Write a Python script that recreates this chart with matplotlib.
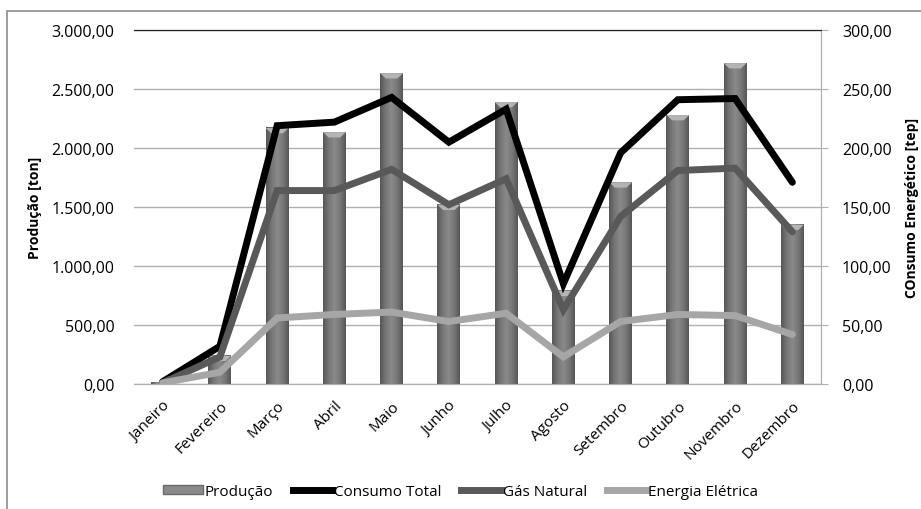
import matplotlib.pyplot as plt
import numpy as np
from matplotlib.patches import Rectangle, Polygon, Patch
from matplotlib.lines import Line2D
from matplotlib.ticker import FuncFormatter
from matplotlib.colors import LinearSegmentedColormap

plt.rcParams['font.family'] = ['Open Sans', 'DejaVu Sans']

meses = ['Janeiro', 'Fevereiro', 'Março', 'Abril', 'Maio', 'Junho', 'Julho',
         'Agosto', 'Setembro', 'Outubro', 'Novembro', 'Dezembro']
producao = [10, 240, 2170, 2135, 2635, 1520, 2390, 790, 1710, 2280, 2720, 1350]
consumo_total = [2, 32, 219, 222, 243, 205, 233, 85, 196, 241, 242, 171]
gas_natural = [1, 23, 164, 164, 182, 152, 174, 63, 142, 181, 183, 129]
energia_eletrica = [1, 10, 56, 59, 61, 53, 60, 23, 53, 59, 58, 42]


def br(v, pos=None):
    s = '{:,.2f}'.format(v)
    return s.replace(',', 'X').replace('.', ',').replace('X', '.')


fig = plt.figure(figsize=(9.21, 5.10), dpi=100)
ax = fig.add_axes([0.1455, 0.245, 0.7459, 0.694])
ax2 = ax.twinx()

# moldura externa do grafico
fig.patches.append(Rectangle((7 / 921, -0.2), 1.2, 0.2 + (510 - 12) / 510,
                             transform=fig.transFigure, fill=False,
                             edgecolor='#8c8c8c', lw=1.2))

x = np.arange(len(meses))
largura = 0.4
cmap = LinearSegmentedColormap.from_list(
    'cil', ['#575757', '#777777', '#8a8a8a', '#777777', '#575757'])
grad = np.linspace(0, 1, 64).reshape(1, -1)

barras = ax.bar(x, producao, width=largura, color='#7a7a7a', zorder=2)
for b, h in zip(barras, producao):
    x0 = b.get_x()
    x1 = x0 + b.get_width()
    ax.imshow(grad, extent=[x0, x1, 0, h], aspect='auto', cmap=cmap,
              clip_path=b, zorder=3)
    cap = min(45, h * 0.5)
    ax.add_patch(Polygon([(x0, h), (x1, h), (x0 + 0.75 * (x1 - x0), h - cap),
                          (x0 + 0.25 * (x1 - x0), h - cap)],
                         closed=True, facecolor='#b4b4b4', edgecolor='none',
                         zorder=4))

ax.set_xlim(-0.5, len(meses) - 0.5)
ax.set_ylim(0, 3000)
ax.set_yticks(np.arange(0, 3001, 500))
ax.yaxis.set_major_formatter(FuncFormatter(br))
ax.grid(axis='y', color='#b0b0b0', lw=1, zorder=0)
ax.set_axisbelow(True)
ax.set_xticks(x)
ax.set_xticklabels(meses, rotation=45, ha='right', rotation_mode='anchor',
                   fontsize=11)
ax.tick_params(axis='x', length=0, pad=10)
ax.tick_params(axis='y', length=0, pad=14, labelsize=11.5)
ax.set_ylabel('Produção [ton]', fontweight='bold', fontsize=10)
ax.yaxis.set_label_coords(-0.134, 0.5)

cor_linhas = ['black', '#595959', '#a6a6a6']
for serie, cor in zip([consumo_total, gas_natural, energia_eletrica], cor_linhas):
    ax2.plot(x, serie, color=cor, lw=5, solid_joinstyle='miter',
             solid_capstyle='round', zorder=5)
ax2.set_ylim(0, 300)
ax2.set_yticks(np.arange(0, 301, 50))
ax2.yaxis.set_major_formatter(FuncFormatter(br))
ax2.tick_params(axis='y', length=5, color='#b0b0b0', pad=10, labelsize=11.5)
ax2.set_ylabel('COnsumo Energético [tep]', fontweight='bold', fontsize=10)
ax2.yaxis.set_label_coords(1.122, 0.5)

for a in (ax, ax2):
    a.spines['left'].set_visible(False)
    a.spines['top'].set_color('#222222')
    a.spines['bottom'].set_color('#b0b0b0')
    a.spines['right'].set_color('#b0b0b0')

handles = [Patch(facecolor='#8a8a8a', edgecolor='#6a6a6a'),
           Line2D([], [], color='black', lw=5),
           Line2D([], [], color='#595959', lw=5),
           Line2D([], [], color='#a6a6a6', lw=5)]
fig.legend(handles, ['Produção', 'Consumo Total', 'Gás Natural', 'Energia Elétrica'],
           loc='center', bbox_to_anchor=(0.5, 0.035), ncol=4, frameon=False,
           fontsize=11, handlelength=2.6, handletextpad=0.1, columnspacing=1.3,
           handleheight=0.5)

fig.savefig('out.png', dpi=100)
